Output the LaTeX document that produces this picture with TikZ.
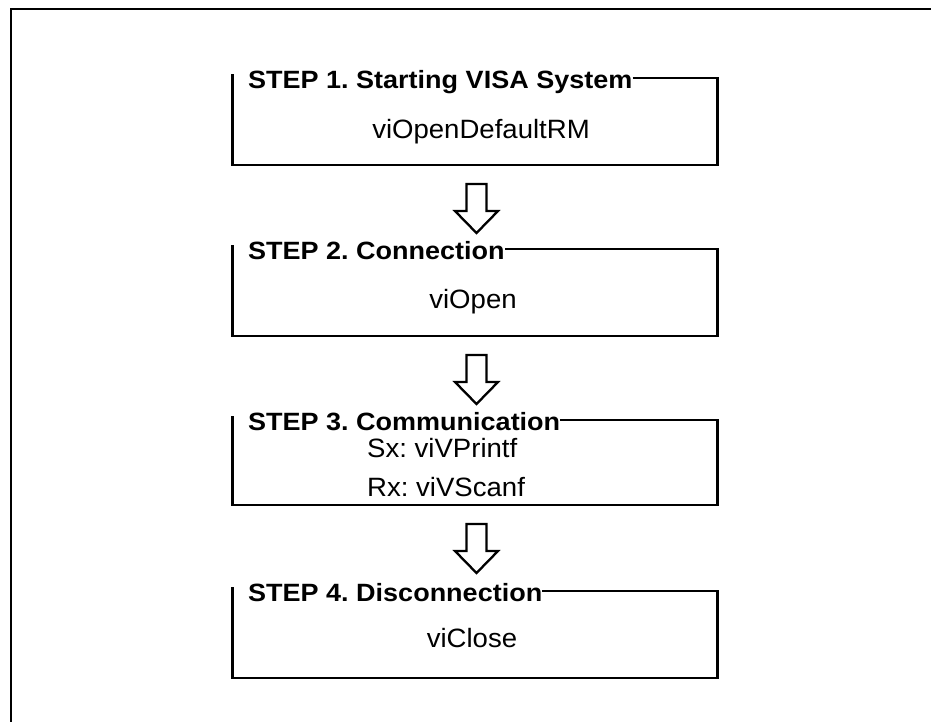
\documentclass[tikz,border=0pt]{standalone}
\usepackage{fontspec}
\setmainfont{Liberation Sans}
\frenchspacing
\newfontfamily\ttlfont[FakeStretch=1.08]{Liberation Sans Bold}
\newfontfamily\bodyfont[FakeStretch=1.04]{Liberation Sans}
\tikzset{
  ttl/.style={inner sep=0pt, anchor=base west, font=\ttlfont\fontsize{25}{30}\selectfont\frenchspacing},
  bodytxt/.style={inner sep=0pt, anchor=base, font=\bodyfont\fontsize{26.5}{32}\selectfont\frenchspacing},
  bodyleft/.style={bodytxt, anchor=base west},
  frame/.style={line width=2.3pt, line join=miter},
  hollowarrow/.pic={\draw[frame] (-10,0) -- (10,0) -- (10,27) -- (21.5,27) -- (0,49) -- (-21.5,27) -- (-10,27) -- cycle;}
}
\begin{document}
\begin{tikzpicture}[x=1pt,y=-1pt]
\useasboundingbox (0,0) rectangle (931,721);
% outer frame
\coordinate (fbl) at (11,722);
\coordinate (ftl) at (11,9);
\coordinate (ftr) at (932,9);
\draw[frame] (fbl) -- (ftl) -- (ftr);

% box 1
\node[ttl] (t1) at (248,88) {STEP 1. Starting VISA System};
\coordinate (b1ne) at (717.5,78);
\coordinate (b1se) at (717.5,165);
\coordinate (b1sw) at (232.5,165);
\coordinate (b1nw) at (232.5,74);
\draw[frame] (t1.east |- b1ne) -- (b1ne) -- (b1se) -- (b1sw) -- (b1nw);
\node[bodytxt] (c1) at (481,138) {viOpenDefaultRM};

\pic at (476.5,184) {hollowarrow};

% box 2
\node[ttl] (t2) at (248,259) {STEP 2. Connection};
\coordinate (b2ne) at (717.5,249);
\coordinate (b2se) at (717.5,336);
\coordinate (b2sw) at (232.5,336);
\coordinate (b2nw) at (232.5,245);
\draw[frame] (t2.east |- b2ne) -- (b2ne) -- (b2se) -- (b2sw) -- (b2nw);
\node[bodytxt] (c2) at (473,308) {viOpen};

\pic at (476.5,355) {hollowarrow};

% box 3
\node[ttl] (t3) at (248,430) {STEP 3. Communication};
\coordinate (b3ne) at (717.5,420);
\coordinate (b3se) at (717.5,505);
\coordinate (b3sw) at (232.5,505);
\coordinate (b3nw) at (232.5,416);
\draw[frame] (t3.east |- b3ne) -- (b3ne) -- (b3se) -- (b3sw) -- (b3nw);
\node[bodyleft] (c3a) at (367,457) {Sx: viVPrintf};
\node[bodyleft] (c3b) at (367,496) {Rx: viVScanf};

\pic at (476.5,524) {hollowarrow};

% box 4
\node[ttl] (t4) at (248,601) {STEP 4. Disconnection};
\coordinate (b4ne) at (717.5,591);
\coordinate (b4se) at (717.5,678);
\coordinate (b4sw) at (232.5,678);
\coordinate (b4nw) at (232.5,587);
\draw[frame] (t4.east |- b4ne) -- (b4ne) -- (b4se) -- (b4sw) -- (b4nw);
\node[bodytxt] (c4) at (472,647) {viClose};
\end{tikzpicture}
\end{document}
